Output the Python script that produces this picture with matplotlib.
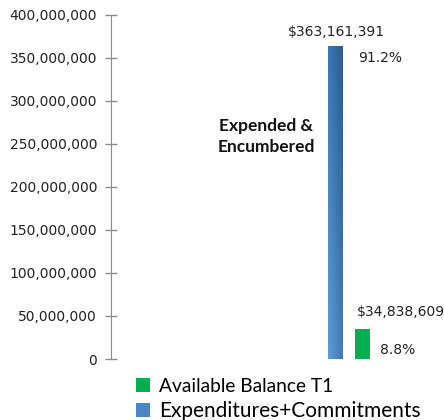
import numpy as np
import matplotlib.pyplot as plt
from matplotlib.patches import Patch

# Fund totals
categories = ["Expenditures+Commitments", "Available Balance T1"]
amounts = [363161391, 34838609]
value_labels = ["$363,161,391", "$34,838,609"]

total = sum(amounts)
shares = [a / total * 100 for a in amounts]

y_ticks = np.arange(0, 400000001, 50000000)

green = "#00b050"
blue_mid = "#4a86c6"

fig = plt.figure(figsize=(4.44, 4.2), dpi=100)
ax = fig.add_axes([0.25, 0.1452, 0.732, 0.820])

bar_w = 0.55
offsets = [-0.5, 0.5]
bars = []
for amt, off, col in zip(amounts, offsets, [blue_mid, green]):
    b = ax.bar(off, amt, width=bar_w, color=col, zorder=2)[0]
    bars.append(b)

# blue bar gets a shaded fill (lighter toward bottom-left)
tl = np.array([0x3b, 0x78, 0xb8]) / 255
tr = np.array([0x2c, 0x5a, 0x90]) / 255
bl = np.array([0x5d, 0x9e, 0xd8]) / 255
br = np.array([0x3f, 0x7a, 0xb9]) / 255
tx = np.linspace(0, 1, 40)[None, :, None]
ty = np.linspace(0, 1, 200)[:, None, None]
grad = (1 - ty) * ((1 - tx) * tl + tx * tr) + ty * ((1 - tx) * bl + tx * br)
b0 = bars[0]
ax.imshow(grad, extent=(b0.get_x(), b0.get_x() + b0.get_width(), 0, b0.get_height()),
          aspect="auto", zorder=3, interpolation="bilinear")

ax.set_xlim(-8.8, 3.2)
ax.set_ylim(0, 400000000)
ax.set_yticks(y_ticks)
ax.set_yticklabels([f"{v:,.0f}" for v in y_ticks])
ax.set_xticks([])

for side in ["top", "right", "bottom"]:
    ax.spines[side].set_visible(False)
ax.spines["left"].set_color("#8c8c8c")
ax.tick_params(axis="y", direction="inout", length=8, width=1, color="#8c8c8c",
               labelsize=10, labelcolor="#222222", pad=6)

# value and share labels
lab_offs = [(1, 14), (38, 17)]
pct_offs = [(22, -12), (17, -21)]
for b, vl, sh, lo, po in zip(bars, value_labels, shares, lab_offs, pct_offs):
    cx = b.get_x() + b.get_width() / 2
    top = b.get_height()
    ax.annotate(vl, (cx, top), xytext=lo, textcoords="offset pixels",
                ha="center", va="center", fontsize=10, color="#222222")
    ax.annotate(f"{sh:.1f}%", (cx, top), xytext=po, textcoords="offset pixels",
                ha="left", va="center", fontsize=10, color="#222222")

ax.text(0.477, 0.646, "Expended &\nEncumbered", transform=ax.transAxes,
        ha="center", va="center", fontsize=12.5, fontweight="bold",
        family="Lato", linespacing=1.35, color="#111111")

handles = [Patch(facecolor=green), Patch(facecolor=blue_mid)]
leg = fig.legend(handles, [categories[1], categories[0]], loc="upper left",
                 bbox_to_anchor=(136 / 444, 1 - 378 / 420), frameon=False,
                 handlelength=0.75, handleheight=0.75, handletextpad=0.45,
                 labelspacing=0.3, borderpad=0, borderaxespad=0,
                 prop={"family": "Lato", "size": 13.8})
leg.get_texts()[1].set_fontsize(15)

fig.savefig("out.png", dpi=100)
